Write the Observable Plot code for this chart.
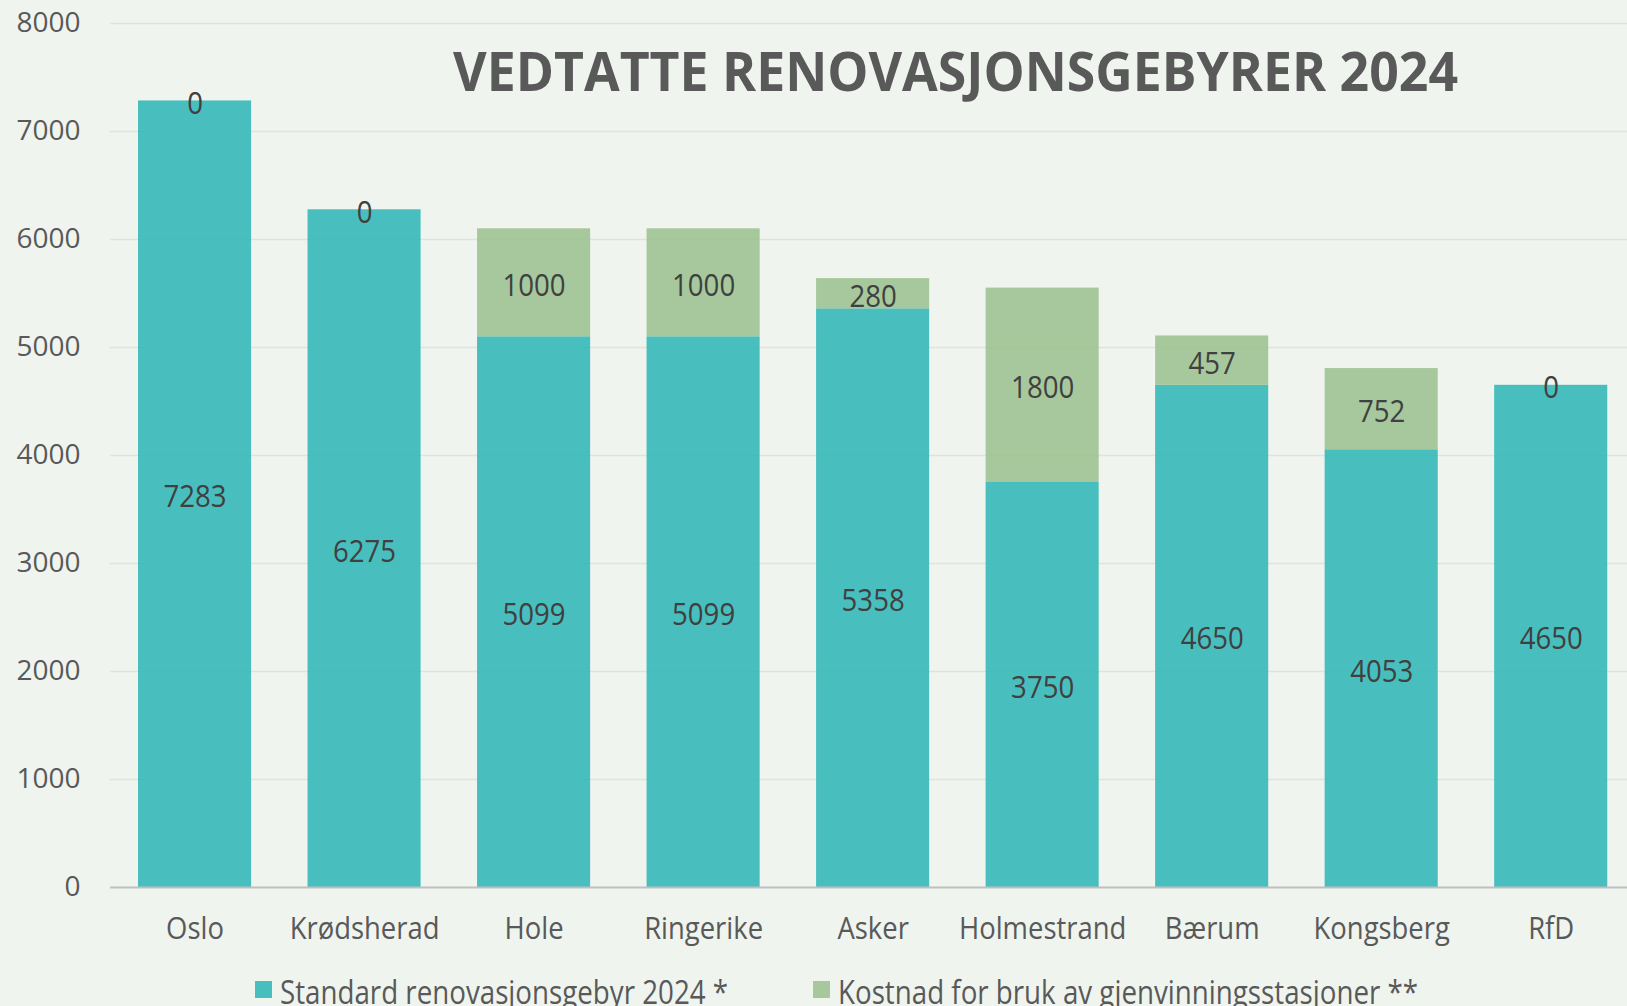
<!DOCTYPE html>
<html>
<head>
<meta charset="utf-8">
<script src="https://cdn.jsdelivr.net/npm/d3@7"></script>
<script src="https://cdn.jsdelivr.net/npm/@observablehq/plot@0.6"></script>
<style>
  html, body { margin: 0; padding: 0; background: #eff4ef; }
  body { width: 1627px; height: 1006px; position: relative; overflow: hidden; font-family: "Open Sans", sans-serif; }
  #chart { position: absolute; left: 0; top: 0; }
  #title { position: absolute; top: 34px; left: 453px; white-space: nowrap; font-weight: 700; font-size: 54px; line-height: 72px; color: #595959; transform-origin: 0 50%; }
  #legend { position: absolute; top: 0; left: 0; width: 1627px; height: 1006px; pointer-events: none; color: #595959; }
  .sw { position: absolute; top: 981px; width: 17px; height: 17px; }
  .lt { position: absolute; top: 972px; font-size: 33px; line-height: 40px; white-space: nowrap; transform-origin: 0 50%; }
</style>
</head>
<body>
<div id="chart"></div>
<div id="title">VEDTATTE RENOVASJONSGEBYRER 2024</div>
<div id="legend"></div>
<script>
const categories = ["Oslo", "Krødsherad", "Hole", "Ringerike", "Asker", "Holmestrand", "Bærum", "Kongsberg", "RfD"];
const standard = [7283, 6275, 5099, 5099, 5358, 3750, 4650, 4053, 4650];
const gjenvinning = [0, 0, 1000, 1000, 280, 1800, 457, 752, 0];
const seriesNames = ["Standard renovasjonsgebyr 2024 *", "Kostnad for bruk av gjenvinningsstasjoner **"];
const seriesColors = ["#35b9b8", "#9dc392"];
const yTicks = [0, 1000, 2000, 3000, 4000, 5000, 6000, 7000, 8000];

const rows = categories.flatMap((k, i) => [
  {kommune: k, serie: seriesNames[0], value: standard[i]},
  {kommune: k, serie: seriesNames[1], value: gjenvinning[i]}
]);

const chart = Plot.plot({
  width: 1627,
  height: 960,
  marginTop: 23,
  marginBottom: 73,
  marginLeft: 110,
  marginRight: 0,
  style: {background: "transparent", fontFamily: "Open Sans, sans-serif", color: "#595959", overflow: "visible"},
  x: {domain: categories, range: [109.75, 1635.5], paddingInner: 0.333, paddingOuter: 0.1667, round: false, axis: null},
  y: {domain: [0, 8000], axis: null},
  color: {domain: seriesNames, range: seriesColors},
  marks: [
    Plot.ruleY(yTicks.filter(t => t > 0), {stroke: "#dfe2de", strokeWidth: 1.5}),
    Plot.barY(rows, Plot.stackY({x: "kommune", y: "value", fill: "serie", fillOpacity: 0.9})),
    Plot.ruleY([0], {stroke: "#bfbfbf", strokeWidth: 2}),
    Plot.axisY(yTicks, {tickSize: 0, tickPadding: 30, fontSize: 28, fill: "#595959", tickFormat: d => String(d), label: null}),
    Plot.text(rows, Plot.stackY({x: "kommune", y: "value", z: "serie", text: d => String(d.value), fontSize: 31, fill: "#404040", dy: 3, className: "vlab"})),
    Plot.text(categories, {x: d => d, frameAnchor: "bottom", dy: 51, fontSize: 31, fill: "#595959", className: "clab"})
  ]
});
document.getElementById("chart").appendChild(chart);

// horizontally condense label texts (Calibri-like narrow look)
function condense(sel, s) {
  chart.querySelectorAll(sel + " text").forEach(t => {
    const b = t.getBBox();
    const cx = b.x + b.width / 2;
    const tr = t.getAttribute("transform") || "";
    t.setAttribute("transform", `${tr} translate(${cx},0) scale(${s},1) translate(${-cx},0)`);
  });
}
condense(".vlab", 0.89);
condense(".clab", 0.885);

// legend
const legend = d3.select("#legend");
const swLefts = [255, 813];
const textLefts = [280, 838];
seriesNames.forEach((name, i) => {
  legend.append("div").attr("class", "sw").style("left", swLefts[i] + "px")
    .style("background", d3.color(seriesColors[i]).copy({opacity: 0.9}).formatRgb());
  legend.append("div").attr("class", "lt").style("left", textLefts[i] + "px")
    .style("transform", "scaleX(0.84)").text(name);
});

// fit title width
const title = document.getElementById("title");
const w = title.getBoundingClientRect().width;
title.style.transform = `scaleX(${1005 / w})`;
</script>
</body>
</html>
